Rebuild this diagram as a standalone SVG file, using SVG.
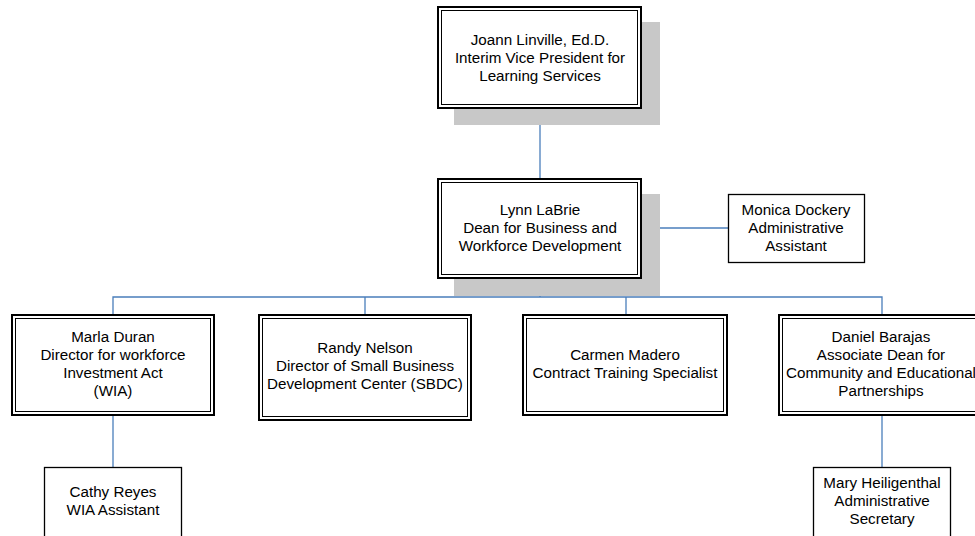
<svg xmlns="http://www.w3.org/2000/svg" width="975" height="536" viewBox="0 0 975 536">
<style>
.o{fill:#fff;stroke:#000;stroke-width:2}
.i{fill:none;stroke:#000;stroke-width:1}
.s{fill:#fff;stroke:#000;stroke-width:1.3}
.sh{fill:#c8c8c8}
.c{fill:none;stroke:#4a7ebb;stroke-width:1.3}
text{font-family:"Liberation Sans",Arial,sans-serif;font-size:15.2px;fill:#000;text-anchor:middle}
</style>
<rect width="975" height="536" fill="#fff"/>
<g id="connectors">
<line class="c" x1="540" y1="109" x2="540" y2="178"/>
<line class="c" x1="642" y1="228" x2="728" y2="228"/>
<line class="c" x1="540" y1="279" x2="540" y2="297"/>
<polyline class="c" points="113,314 113,297 882,297 882,314"/>
<line class="c" x1="365" y1="297" x2="365" y2="314"/>
<line class="c" x1="626" y1="297" x2="626" y2="314"/>
<line class="c" x1="113" y1="416" x2="113" y2="467"/>
<line class="c" x1="882" y1="416" x2="882" y2="467"/>
</g>
<g id="joann">
<rect class="sh" x="454" y="22" width="206" height="103"/>
<rect class="o" x="438" y="7" width="203" height="101"/>
<rect class="i" x="441.5" y="10.5" width="196" height="94"/>
<text x="540" y="45">Joann Linville, Ed.D.</text>
<text x="540" y="63">Interim Vice President for</text>
<text x="540" y="81">Learning Services</text>
</g>
<g id="lynn">
<rect class="sh" x="454" y="194" width="206" height="102"/>
<rect class="o" x="438" y="179" width="203" height="99"/>
<rect class="i" x="441.5" y="182.5" width="196" height="92"/>
<text x="540" y="215">Lynn LaBrie</text>
<text x="540" y="233">Dean for Business and</text>
<text x="540" y="251">Workforce Development</text>
</g>
<g id="monica">
<rect class="s" x="728.5" y="194.5" width="136" height="68"/>
<text x="796" y="215">Monica Dockery</text>
<text x="796" y="233">Administrative</text>
<text x="796" y="251">Assistant</text>
</g>
<g id="marla">
<rect class="o" x="12" y="315" width="202" height="100"/>
<rect class="i" x="15.5" y="318.5" width="195" height="93"/>
<text x="113" y="342">Marla Duran</text>
<text x="113" y="360">Director for workforce</text>
<text x="113" y="378">Investment Act</text>
<text x="113" y="396">(WIA)</text>
</g>
<g id="randy">
<rect class="o" x="259" y="315" width="212" height="105"/>
<rect class="i" x="262.5" y="318.5" width="205" height="98"/>
<text x="365" y="353">Randy Nelson</text>
<text x="365" y="371">Director of Small Business</text>
<text x="365" y="389">Development Center (SBDC)</text>
</g>
<g id="carmen">
<rect class="o" x="523" y="315" width="204" height="100"/>
<rect class="i" x="526.5" y="318.5" width="197" height="93"/>
<text x="625" y="360">Carmen Madero</text>
<text x="625" y="378">Contract Training Specialist</text>
</g>
<g id="daniel">
<rect class="o" x="779" y="315" width="210" height="100"/>
<rect class="i" x="782.5" y="318.5" width="203" height="93"/>
<text x="881" y="342">Daniel Barajas</text>
<text x="881" y="360">Associate Dean for</text>
<text x="881" y="378">Community and Educational</text>
<text x="881" y="396">Partnerships</text>
</g>
<g id="cathy">
<rect class="s" x="44.5" y="467.5" width="137" height="72"/>
<text x="113" y="497">Cathy Reyes</text>
<text x="113" y="515">WIA Assistant</text>
</g>
<g id="mary">
<rect class="s" x="813.5" y="467.5" width="137" height="72"/>
<text x="882" y="488">Mary Heiligenthal</text>
<text x="882" y="506">Administrative</text>
<text x="882" y="524">Secretary</text>
</g>
</svg>
